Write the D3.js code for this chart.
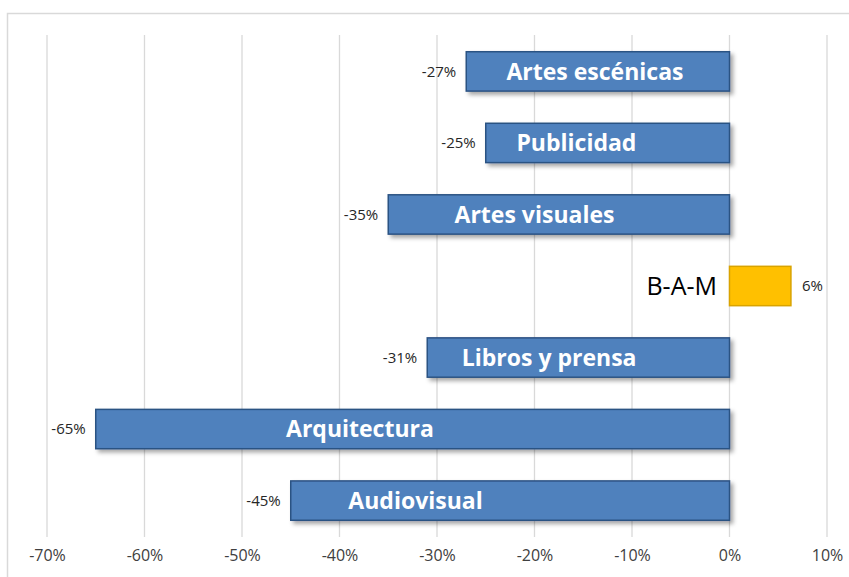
<!DOCTYPE html>
<html>
<head>
<meta charset="utf-8">
<script src="https://cdn.jsdelivr.net/npm/d3@7"></script>
<style>
  body { margin: 0; background: #fff; }
  svg { display: block; }
</style>
</head>
<body>
<div id="chart"></div>
<script>
// Categories, top to bottom
const categories = ["Artes escénicas", "Publicidad", "Artes visuales", "B-A-M", "Libros y prensa", "Arquitectura", "Audiovisual"];
// Change (fraction)
const values = [-0.27, -0.25, -0.35, 0.063, -0.31, -0.65, -0.45];
const valueLabels = ["-27%", "-25%", "-35%", "6%", "-31%", "-65%", "-45%"];
// Where each category name sits, in axis units (centre of the text)
const namePos = [-0.138, -0.157, -0.2, -0.049, -0.185, -0.379, -0.322];
const tickValues = [-0.7, -0.6, -0.5, -0.4, -0.3, -0.2, -0.1, 0, 0.1];
const tickLabels = ["-70%", "-60%", "-50%", "-40%", "-30%", "-20%", "-10%", "0%", "10%"];

const W = 849, H = 577;
const svg = d3.select("#chart").append("svg")
    .attr("width", W)
    .attr("height", H);

// drop shadow for the blue bars
const defs = svg.append("defs");
const f = defs.append("filter").attr("id", "shadow")
    .attr("x", "-5%").attr("y", "-20%").attr("width", "115%").attr("height", "160%");
f.append("feDropShadow").attr("dx", 3).attr("dy", 3).attr("stdDeviation", 2)
    .attr("flood-color", "#000").attr("flood-opacity", 0.35);

// chart frame
svg.append("rect")
    .attr("x", 7.5).attr("y", 13.5)
    .attr("width", W + 10).attr("height", H)
    .attr("fill", "#fff")
    .attr("stroke", "#d9d9d9")
    .attr("stroke-width", 1.5);

const x = d3.scaleLinear()
    .domain([-0.7, 0.1])
    .range([47, 827]);

const y = d3.scaleBand()
    .domain(categories)
    .range([36, 536])
    .paddingInner(0.45)
    .paddingOuter(0.22);

// vertical gridlines
svg.append("g")
    .selectAll("line")
    .data(tickValues)
    .enter().append("line")
    .attr("x1", d => x(d)).attr("x2", d => x(d))
    .attr("y1", 35).attr("y2", 537)
    .attr("stroke", "#d9d9d9")
    .attr("stroke-width", 1.3);

// x axis labels
const xAxis = d3.axisBottom(x)
    .tickValues(tickValues)
    .tickFormat((d, i) => tickLabels[i])
    .tickSize(0)
    .tickPadding(0);

const gx = svg.append("g")
    .attr("transform", "translate(0,550)")
    .call(xAxis);
gx.select(".domain").remove();
gx.selectAll("text")
    .style("font-family", "'Open Sans', sans-serif")
    .style("font-size", "16px")
    .attr("fill", "#404040");

const rows = categories.map((c, i) => ({ cat: c, v: values[i], label: valueLabels[i], pos: namePos[i] }));

// bars
svg.selectAll(".bar")
    .data(rows)
    .enter().append("rect")
    .attr("class", "bar")
    .attr("x", d => x(Math.min(0, d.v)))
    .attr("y", d => y(d.cat))
    .attr("width", d => Math.abs(x(d.v) - x(0)))
    .attr("height", y.bandwidth())
    .attr("fill", d => d.v < 0 ? "#4f81bd" : "#ffc000")
    .attr("stroke", d => d.v < 0 ? "#2c5283" : "#d9a300")
    .attr("stroke-width", 1.5)
    .attr("filter", d => d.v < 0 ? "url(#shadow)" : null);

// value labels
svg.selectAll(".val")
    .data(rows)
    .enter().append("text")
    .attr("class", "val")
    .attr("x", d => d.v < 0 ? x(d.v) - 10 : x(d.v) + 11)
    .attr("y", d => y(d.cat) + y.bandwidth() / 2)
    .attr("dy", "0.35em")
    .attr("text-anchor", d => d.v < 0 ? "end" : "start")
    .style("font-family", "'Open Sans', sans-serif")
    .style("font-size", "15px")
    .attr("fill", "#262626")
    .text(d => d.label);

// category names
svg.selectAll(".name")
    .data(rows)
    .enter().append("text")
    .attr("class", "name")
    .attr("x", d => x(d.pos))
    .attr("y", d => y(d.cat) + y.bandwidth() / 2)
    .attr("dy", "0.36em")
    .attr("text-anchor", "middle")
    .style("font-family", "'Open Sans', sans-serif")
    .style("font-size", d => d.v < 0 ? "23px" : "25px")
    .style("font-weight", d => d.v < 0 ? "bold" : "normal")
    .attr("fill", d => d.v < 0 ? "#ffffff" : "#000000")
    .text(d => d.cat);
</script>
</body>
</html>
